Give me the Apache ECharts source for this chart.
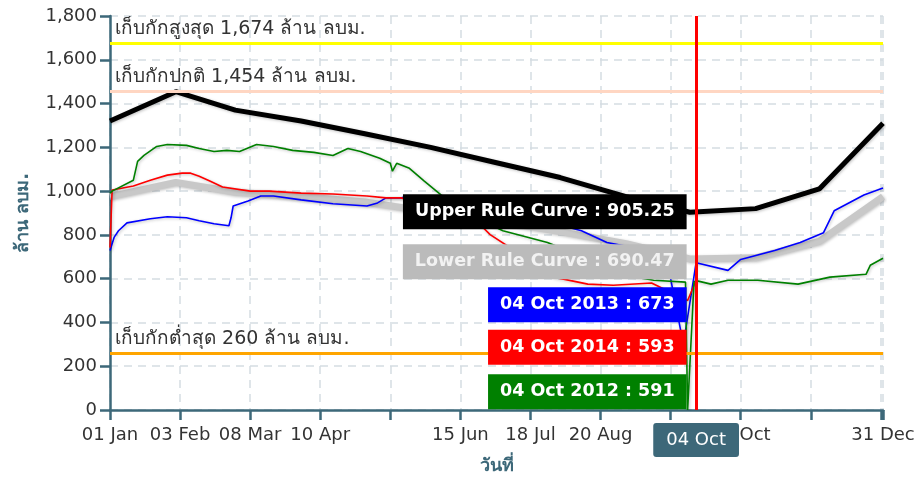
<!DOCTYPE html>
<html>
<head>
<meta charset="utf-8">
<script src="https://cdn.jsdelivr.net/npm/echarts@6/dist/echarts.min.js"></script>
<style>
  html, body { margin: 0; padding: 0; background: #fff; }
  #chart { width: 921px; height: 480px; }
</style>
</head>
<body>
<div id="chart"></div>
<script>
// ===== DATA =====
const tickDays = [0, 33, 66, 99, 132, 165, 198, 231, 264, 297, 330, 364];
const tickLabels = ['01 Jan', '03 Feb', '08 Mar', '10 Apr', '', '15 Jun', '18 Jul', '20 Aug', '', '25 Oct', '', '31 Dec'];
const yTicks = [0, 200, 400, 600, 800, 1000, 1200, 1400, 1600, 1800];

const ruleDays = [0, 31, 59, 90, 120, 151, 181, 212, 243, 273, 304, 334, 364];
const upperRule = [1320, 1454, 1370, 1320, 1262, 1200, 1132, 1062, 975, 903.5, 920, 1010, 1310];
const lowerRule = [975, 1040, 995, 975, 950, 905, 865, 815, 760, 690, 695, 770, 975];

const days2013 = [0, 2, 4, 8, 19, 27, 36, 42, 49, 56, 57, 58, 65, 71, 77, 90, 105, 121, 126, 130, 137, 140, 160, 190, 210, 222, 234, 250, 262, 270, 276, 291, 297, 313, 325, 336, 341, 355, 364];
const vals2013 = [729, 790, 819, 855, 874, 883, 878, 865, 851, 842, 878, 932, 955, 978, 978, 960, 942, 932, 946, 969, 969, 978, 965, 900, 850, 819, 765, 735, 700, 300, 673, 638, 688, 729, 765, 810, 910, 982, 1014];

const days2014 = [0, 1, 11, 19, 27, 34, 38, 42, 47, 53, 66, 75, 90, 105, 121, 130, 137, 143, 159, 168, 174, 179, 195, 209, 225, 237, 255, 272, 276];
const vals2014 = [742, 1005, 1023, 1050, 1073, 1082, 1082, 1068, 1046, 1019, 1000, 1000, 991, 987, 978, 969, 969, 955, 960, 923, 850, 801, 700, 607, 575, 570, 580, 500, 593];

const days2012 = [0, 1, 11, 13, 16, 22, 27, 36, 42, 49, 55, 61, 69, 77, 86, 96, 105, 112, 118, 127, 132, 133, 135, 141, 148, 156, 170, 185, 206, 225, 240, 256, 271, 272, 275, 276, 283, 291, 305, 324, 339, 356, 358, 364];
const vals2012 = [990, 1000, 1050, 1136, 1163, 1204, 1213, 1209, 1195, 1181, 1186, 1181, 1213, 1204, 1186, 1177, 1163, 1195, 1181, 1150, 1127, 1091, 1127, 1104, 1046, 982, 890, 819, 765, 690, 620, 593, 584, 0, 585, 591, 575, 593, 593, 575, 607, 620, 661, 693];

const crossDay = 276;
const crossNames = ['Upper Rule Curve', 'Lower Rule Curve', '2013', '2014', '2012'];
const crossValues = [905.25, 690.47, 673, 593, 591];

const plotLineValues = [1674, 1454, 260];
const plotLineLabels = ['เก็บกักสูงสุด 1,674 ล้าน ลบม.', 'เก็บกักปกติ 1,454 ล้าน ลบม.', 'เก็บกักต่ำสุด 260 ล้าน ลบม.'];

// ===== HELPERS =====
const MONTHS = ['Jan','Feb','Mar','Apr','May','Jun','Jul','Aug','Sep','Oct','Nov','Dec'];
function dayLabel(d) {
  const dt = new Date(Date.UTC(2014, 0, 1) + d * 86400000);
  return String(dt.getUTCDate()).padStart(2, '0') + ' ' + MONTHS[dt.getUTCMonth()];
}
const zip = (xs, ys) => xs.map((x, i) => [x, ys[i]]);

const FONT = "'DejaVu Sans', 'Noto Sans', sans-serif";
const AXIS = '#3d6879';
const GRID = '#d5dde2';

const COLORS = ['#000000', '#c8c8c8', '#0000ff', '#ff0000', '#008000'];
const TIP_BG = ['#000000', '#bbbbbb', '#0000ff', '#ff0000', '#008000'];
const TIP_FG = ['#ffffff', '#f2f2f2', '#ffffff', '#ffffff', '#ffffff'];
const TIP_DY = [0, 3, 42, 67, 111];

function lineSeries(name, data, color, width) {
  return {
    name,
    type: 'line',
    z: 2,
    data,
    showSymbol: false,
    smooth: false,
    animation: false,
    lineStyle: { color, width, shadowColor: 'rgba(0,0,0,0.25)', shadowBlur: 3, shadowOffsetX: 1, shadowOffsetY: 1 },
    itemStyle: { color }
  };
}

// ===== CHART =====
const chart = echarts.init(document.getElementById('chart'));

const sUpper = lineSeries(crossNames[0], zip(ruleDays, upperRule), COLORS[0], 5);
const sLower = lineSeries(crossNames[1], zip(ruleDays, lowerRule), COLORS[1], 7);
const s2013 = lineSeries(crossNames[2], zip(days2013, vals2013), COLORS[2], 1.6);
const s2014 = lineSeries(crossNames[3], zip(days2014, vals2014), COLORS[3], 1.6);
const s2012 = lineSeries(crossNames[4], zip(days2012, vals2012), COLORS[4], 1.6);

sUpper.markLine = {
  symbol: 'none',
  silent: true,
  animation: false,
  data: plotLineValues.map((v, i) => ({
    yAxis: v,
    lineStyle: { color: ['#ffff00', '#ffd6c2', '#ffa500'][i], width: 3, type: 'solid' },
    label: {
      show: true,
      position: 'insideStartTop',
      formatter: plotLineLabels[i],
      color: '#333',
      fontFamily: FONT,
      fontSize: 19,
      distance: [5, 5]
    }
  }))
};

// split tooltip boxes at the crosshair
const tipSeries = {
  name: 'tips',
  type: 'scatter',
  z: 10,
  silent: true,
  animation: false,
  symbolSize: 1,
  itemStyle: { color: 'transparent', opacity: 1 },
  data: crossValues.map((v, i) => ({
    value: [crossDay, v],
    label: {
      show: true,
      position: 'left',
      distance: 9,
      offset: [0, TIP_DY[i]],
      backgroundColor: TIP_BG[i],
      color: TIP_FG[i],
      padding: [9, 12, 8, 12],
      fontFamily: FONT,
      fontSize: 17.5,
      fontWeight: 'bold',
      formatter: i < 2 ? crossNames[i] + ' : ' + v : dayLabel(crossDay) + ' ' + crossNames[i] + ' : ' + v
    }
  }))
};

const option = {
  animation: false,
  textStyle: { fontFamily: FONT },
  grid: { left: 110, right: 38, top: 16, bottom: 66 },
  xAxis: {
    type: 'value',
    min: 0,
    max: 364,
    interval: 33,
    name: 'วันที่',
    nameLocation: 'middle',
    nameGap: 47,
    nameTextStyle: { color: AXIS, fontWeight: 'bold', fontSize: 18, fontFamily: FONT },
    axisLine: { show: true, lineStyle: { color: AXIS, width: 2.5 } },
    axisTick: { show: true, length: 10, lineStyle: { color: AXIS, width: 2.5 } },
    axisLabel: {
      color: '#333',
      fontSize: 18,
      margin: 16,
      showMaxLabel: true,
      showMinLabel: true,
      hideOverlap: false,
      formatter: v => { const i = tickDays.indexOf(v); return i >= 0 ? tickLabels[i] : ''; }
    },
    splitLine: { show: true, lineStyle: { color: GRID, type: [8, 6], width: 1.5 } },
    axisPointer: {
      show: true,
      type: 'line',
      value: crossDay,
      status: 'show',
      snap: false,
      triggerTooltip: false,
      lineStyle: { color: '#ff0000', width: 3, type: 'solid' },
      label: {
        show: true,
        formatter: p => dayLabel(Math.round(p.value)),
        backgroundColor: AXIS,
        color: '#fff',
        fontFamily: FONT,
        fontSize: 18,
        padding: [8, 13, 8, 13],
        margin: 13
      },
      handle: { show: false }
    }
  },
  yAxis: {
    type: 'value',
    min: 0,
    max: 1800,
    interval: 200,
    name: 'ล้าน ลบม.',
    nameLocation: 'middle',
    nameGap: 78,
    nameTextStyle: { color: AXIS, fontWeight: 'bold', fontSize: 18, fontFamily: FONT },
    axisLine: { show: true, lineStyle: { color: AXIS, width: 2.5 } },
    axisTick: { show: true, length: 10, lineStyle: { color: AXIS, width: 2.5 } },
    axisLabel: {
      color: '#333',
      fontSize: 18,
      margin: 13,
      formatter: v => yTicks.indexOf(v) >= 0 ? v.toLocaleString('en-US') : ''
    },
    splitLine: { show: true, lineStyle: { color: GRID, type: [8, 6], width: 1.5 } }
  },
  series: [sUpper, sLower, s2013, s2014, s2012, tipSeries]
};

chart.setOption(option);
</script>
</body>
</html>
